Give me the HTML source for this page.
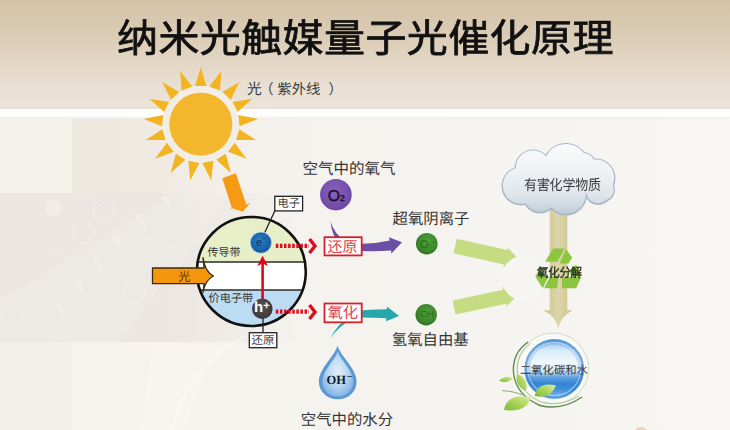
<!DOCTYPE html>
<html lang="zh-CN">
<head>
<meta charset="utf-8">
<style>
html,body{margin:0;padding:0;}
body{width:730px;height:430px;overflow:hidden;position:relative;background:#efebe5;font-family:"Liberation Sans",sans-serif;}
#top{position:absolute;left:0;top:0;width:730px;height:110px;background:linear-gradient(#d3c2a7 0%,#dccdb7 35%,#e8ded1 75%,#ede5db 100%);}
#band{position:absolute;left:0;top:107px;width:730px;height:12px;background:linear-gradient(#e7ddd1 0,#e4dace 1px,#f6f2ee 2px,#ffffff 3px,#ffffff 9px,#f6f4f1 10px,#f1eeea 12px);}
#low{position:absolute;left:0;top:116px;width:730px;height:314px;background:linear-gradient(90deg,#f4f1ed 0,#f5f3ef 400px,#f7f6f3 730px);}
.bg{position:absolute;}
#pA{left:0;top:116px;width:72px;height:77px;background:#f5f1eb;}
#pB{left:72px;top:116px;width:260px;height:77px;background:linear-gradient(90deg,#eee7de 0,#efe9e1 70px,#f4f0eb 180px,#f5f3ef 260px);}
#pC{left:0;top:193px;width:320px;height:149px;background:linear-gradient(90deg,#ebe6e1 0,#ebe6e1 170px,#f0ece7 240px,#f5f3ef 300px);}
#pD{left:0;top:342px;width:72px;height:88px;background:#f2eee9;}
#pE{left:72px;top:342px;width:250px;height:88px;background:linear-gradient(90deg,#f6f3ee 0,#f6f3ee 180px,#f5f3ef 250px);}
svg{position:absolute;left:0;top:0;}
.t{position:absolute;white-space:nowrap;line-height:1;color:#444;text-rendering:geometricPrecision;}
#title{left:117px;top:20px;font-size:41px;font-weight:500;color:#111;letter-spacing:0.4px;transform:scaleY(0.95);transform-origin:0 0;-webkit-text-stroke:0.8px #111;}

.uv{top:82.3px;font-size:14px;color:#3b3b3b;}
#o2t{left:302.5px;top:161.5px;font-size:15.5px;color:#363636;}
#supt{left:392.5px;top:211.8px;font-size:15.4px;color:#363636;}
#oht{left:391.8px;top:332.8px;font-size:15.4px;color:#363636;}
#h2ot{left:300.8px;top:412.5px;font-size:15.4px;color:#363636;}
#cb{left:207.5px;top:247.8px;font-size:11px;color:#3a3a3a;}
#vb{left:208.5px;top:293.5px;font-size:11.2px;color:#3a3a3a;}
#guang{left:178.2px;top:271px;font-size:12.2px;color:#5a3800;}
#dz{left:277.5px;top:199.3px;font-size:11.3px;color:#444;}
#hy2{left:251.5px;top:335.8px;font-size:11.5px;color:#444;}
#hy{left:327.5px;top:240px;font-size:15px;color:#e2434d;}
#yh{left:327.5px;top:305.5px;font-size:15.3px;color:#e2434d;}
#cloudt{left:524px;top:178.3px;font-size:13px;color:#3a3a3a;letter-spacing:-0.2px;transform:scaleY(1.12);transform-origin:0 0;}
#fj{left:537px;top:267.5px;transform:scaleY(1.1);transform-origin:0 0;font-size:11.5px;color:#1c2a12;letter-spacing:-0.3px;-webkit-text-stroke:0.3px #1c2a12;}
#co2{left:520px;top:365.8px;font-size:11.3px;color:#383838;}
#O2in{left:327.8px;top:189.3px;font-size:15.8px;color:#1c1030;-webkit-text-stroke:0.45px #1c1030;}
#ohm{left:326.5px;top:373.5px;font-size:12.5px;color:#0e1c2c;font-weight:bold;font-family:"Liberation Serif",serif;}
#hp{left:254px;top:300px;font-size:15px;color:#fff;font-weight:bold;}
#em{left:256px;top:236px;font-size:11px;color:#0d3560;}
#o2m{left:420px;top:239.5px;font-size:11px;color:#2a6a1c;}
#ohin{left:417.5px;top:310.3px;font-size:9px;color:#2a6a1c;}
</style>
</head>
<body>
<div id="top"></div>
<div id="low"></div><div class="bg" id="pA"></div><div class="bg" id="pB"></div><div class="bg" id="pC"></div><div class="bg" id="pD"></div><div class="bg" id="pE"></div>
<div id="band"></div>
<svg width="730" height="430" viewBox="0 0 730 430">
<defs>
  <clipPath id="cc"><circle cx="251.3" cy="271.5" r="54.5"/></clipPath>
  <radialGradient id="gO2" cx="45%" cy="40%" r="60%"><stop offset="0" stop-color="#8a60bd"/><stop offset="1" stop-color="#6c49a4"/></radialGradient>
  <radialGradient id="gGr" cx="55%" cy="40%" r="60%"><stop offset="0" stop-color="#4fa23a"/><stop offset="0.7" stop-color="#3b8a2b"/><stop offset="1" stop-color="#2c7020"/></radialGradient>
  <radialGradient id="gE" cx="45%" cy="40%" r="60%"><stop offset="0" stop-color="#2a7fc8"/><stop offset="1" stop-color="#15559b"/></radialGradient>
  <radialGradient id="gH" cx="45%" cy="40%" r="60%"><stop offset="0" stop-color="#5a5456"/><stop offset="1" stop-color="#3c3638"/></radialGradient>
  <linearGradient id="gCloud" gradientUnits="userSpaceOnUse" x1="0" y1="142" x2="0" y2="216"><stop offset="0" stop-color="#fafbfc"/><stop offset="0.4" stop-color="#eff2f5"/><stop offset="0.72" stop-color="#dfe5eb"/><stop offset="0.9" stop-color="#cad4de"/><stop offset="1" stop-color="#b8c5d1"/></linearGradient>
  <linearGradient id="gStem" x1="0" y1="0" x2="1" y2="0"><stop offset="0" stop-color="#cdc38d"/><stop offset="0.5" stop-color="#ddd5ab"/><stop offset="1" stop-color="#cdc38d"/></linearGradient>
  <linearGradient id="gGlobe" x1="0" y1="0" x2="0" y2="1"><stop offset="0" stop-color="#6aa6e0"/><stop offset="0.07" stop-color="#a6cff0"/><stop offset="0.2" stop-color="#dcedf9"/><stop offset="0.4" stop-color="#f0f7fc"/><stop offset="0.54" stop-color="#c8e2f6"/><stop offset="0.64" stop-color="#5fa2e2"/><stop offset="0.75" stop-color="#3483d3"/><stop offset="0.86" stop-color="#4691da"/><stop offset="0.94" stop-color="#7db9eb"/><stop offset="1" stop-color="#aed7f4"/></linearGradient>
  <radialGradient id="gRim" cx="50%" cy="50%" r="50%"><stop offset="0.78" stop-color="#3585d3" stop-opacity="0"/><stop offset="0.93" stop-color="#3585d3" stop-opacity="0.55"/><stop offset="1" stop-color="#3a88d5" stop-opacity="0.85"/></radialGradient>
  <linearGradient id="gHi" x1="0" y1="0" x2="0" y2="1"><stop offset="0" stop-color="#ffffff" stop-opacity="0.55"/><stop offset="1" stop-color="#ffffff" stop-opacity="0.85"/></linearGradient>
  <filter id="blur06"><feGaussianBlur stdDeviation="0.7"/></filter>
  <radialGradient id="gDrop" cx="50%" cy="45%" r="60%"><stop offset="0" stop-color="#e2eff9"/><stop offset="0.5" stop-color="#bcd9f2"/><stop offset="0.85" stop-color="#8dbce9"/><stop offset="1" stop-color="#7fb2e4"/></radialGradient>
  <linearGradient id="gLeaf" x1="0" y1="1" x2="1" y2="0"><stop offset="0" stop-color="#7dbb35"/><stop offset="0.5" stop-color="#a8d45a"/><stop offset="1" stop-color="#dcefa8"/></linearGradient>
</defs>

<g id="bgpat">
<path d="M0,300 L0,345 L120,342 L230,193 L175,193 Z" fill="#ffffff" opacity="0.12"/>
<g fill="none" stroke="#ffffff" stroke-width="1.2" opacity="0.25"><circle cx="104" cy="210.5" r="11"/><circle cx="83.5" cy="232" r="11"/><circle cx="12" cy="318" r="10"/><polygon points="185.0,256.5 179.0,266.9 167.0,266.9 161.0,256.5 167.0,246.1 179.0,246.1"/><polygon points="146.7,292.4 140.7,302.8 128.7,302.8 122.7,292.4 128.7,282.0 140.7,282.0"/><polygon points="196.0,170.0 191.0,178.7 181.0,178.7 176.0,170.0 181.0,161.3 191.0,161.3"/><polygon points="70.0,330.0 65.0,338.7 55.0,338.7 50.0,330.0 55.0,321.3 65.0,321.3"/><line x1="55" y1="250" x2="72" y2="262"/><line x1="28" y1="285" x2="45" y2="296"/><line x1="140" y1="245" x2="200" y2="190"/><line x1="90" y1="320" x2="130" y2="280"/></g>
<g fill="#ffffff" opacity="0.25"><circle cx="52.8" cy="208" r="8"/><polygon points="111.1,237.6 118.4,234.2 123.2,254.1"/><polygon points="134.5,215.6 141.8,212.2 146.6,232.1"/><polygon points="160.1,197.6 167.4,194.2 172.2,214.1"/><polygon points="91.1,259.6 98.4,256.2 103.2,276.1"/><polygon points="73.1,282.6 80.4,279.2 85.2,299.1"/><polygon points="54.1,304.6 61.4,301.2 66.2,321.1"/></g>
</g>
<path d="M150,344 L230,344 Q200,370 185,430 L140,430 Q150,380 150,344 Z" fill="#ffffff" opacity="0.22"/>
<path d="M172,430 Q185,370 245,336" stroke="#ffffff" stroke-width="3" opacity="0.35" fill="none"/>
<!-- SUN -->
<g id="sun">
  <circle cx="200.8" cy="124.2" r="38.5" fill="#f2ede5"/>
  <g fill="#f3b422" id="rays"><path d="M206.4,85.9L200.8,66.9L195.2,85.9Z"/><path d="M219.9,90.5L221.5,70.8L209.4,86.5Z"/><path d="M230.7,99.7L239.4,81.9L222.5,92.1Z"/><path d="M237.6,112.1L252.1,98.7L232.6,102.1Z"/><path d="M239.5,126.2L257.9,118.9L238.4,115.1Z"/><path d="M236.1,140.1L255.9,139.9L239.2,129.3Z"/><path d="M228.0,151.7L246.5,158.7L234.7,142.8Z"/><path d="M216.2,159.7L231.0,172.9L225.7,153.8Z"/><path d="M202.3,162.9L211.3,180.5L213.3,160.8Z"/><path d="M188.3,160.8L190.3,180.5L199.3,162.9Z"/><path d="M175.9,153.8L170.6,172.9L185.4,159.7Z"/><path d="M166.9,142.8L155.1,158.7L173.6,151.7Z"/><path d="M162.4,129.3L145.7,139.9L165.5,140.1Z"/><path d="M163.2,115.1L143.7,118.9L162.1,126.2Z"/><path d="M169.0,102.1L149.5,98.7L164.0,112.1Z"/><path d="M179.1,92.1L162.2,81.9L170.9,99.7Z"/><path d="M192.2,86.5L180.1,70.8L181.7,90.5Z"/></g>
  <circle cx="200.8" cy="124.2" r="31.5" fill="#f4b62c"/>
</g>

<!-- orange arrow from sun -->
<path d="M222.3,178.2 L235.8,173.3 L246.3,204.7 L250.5,202.6 L242.8,211.7 L230.2,207.6 L232.3,209.6 Z" fill="#f59a12"/>

<!-- MAIN CIRCLE -->
<g clip-path="url(#cc)">
  <rect x="190" y="210" width="130" height="52" fill="#e6efc8"/>
  <rect x="190" y="262" width="130" height="28" fill="#ffffff"/>
  <rect x="190" y="290" width="130" height="40" fill="#bcdcf3"/>
  <line x1="190" y1="262" x2="320" y2="262" stroke="#2b2b2b" stroke-width="1.6"/>
  <line x1="190" y1="290" x2="320" y2="290" stroke="#2b2b2b" stroke-width="1.6"/>
</g>
<circle cx="251.3" cy="271.5" r="54.5" fill="none" stroke="#111" stroke-width="2.6"/>

<!-- light arrow 光 -->
<path d="M152.5,268 L204,268 L204,267.5 Q203.6,262 203,257.6 Q205,272 213.5,276 Q205,280 203,292.4 Q203.6,289 204,284.5 L204,283.7 L152.5,283.7 Z" fill="#f5960f" stroke="#3d2a0a" stroke-width="1.3" stroke-linejoin="round"/>

<!-- electron box line -->
<line x1="275" y1="210.5" x2="264.5" y2="233" stroke="#222" stroke-width="1.3"/>
<rect x="274.8" y="196.3" width="27.8" height="14.6" fill="#fff" stroke="#222" stroke-width="1.3"/>
<!-- red vertical arrow -->
<line x1="262.6" y1="263" x2="262.6" y2="299" stroke="#e2061b" stroke-width="2.6"/>
<path d="M257.2,266 L262.6,255.8 L268,266 L262.6,263.5 Z" fill="#e2061b"/>
<!-- e- -->
<circle cx="260.9" cy="242.6" r="10.7" fill="url(#gE)" stroke="#bfe3f0" stroke-width="0.8"/>
<!-- h+ -->
<line x1="263" y1="315" x2="263" y2="333" stroke="#222" stroke-width="1.3"/>
<circle cx="262.3" cy="308.7" r="10.3" fill="url(#gH)"/>
<rect x="249.3" y="332.7" width="27.5" height="15" fill="#fff" stroke="#222" stroke-width="1.3"/>

<!-- red dotted arrows -->
<line x1="275.8" y1="245.8" x2="309" y2="245.8" stroke="#e00b1d" stroke-width="4.2" stroke-dasharray="2.5 1.6"/>
<path d="M309.5,239 L315,246 L309.5,253" fill="none" stroke="#e00b1d" stroke-width="3.4"/>
<line x1="275.8" y1="311.7" x2="309" y2="311.7" stroke="#e00b1d" stroke-width="4.2" stroke-dasharray="2.5 1.6"/>
<path d="M309.5,305 L315,312 L309.5,319" fill="none" stroke="#e00b1d" stroke-width="3.4"/>

<!-- purple curved arrow -->
<path d="M330.6,221.5 Q334,234 346,241.5 Q353,244.3 362,243.8 Q377,243.3 389.8,240.4 L388.8,237.2 L402,242.3 L391.4,253.4 L391,250.6 Q376,251.6 362,251 Q346,250.3 337,240.5 Q331.5,233 330.6,221.5 Z" fill="#6b4ea6"/>
<!-- teal curved arrow -->
<path d="M330,338.6 Q337,325 350,315.5 Q358,310.5 366,310.1 Q377,309.6 386.6,309.3 L387.3,306.8 L399,316 L386,321.2 L386.3,318.3 Q374,317.6 362,317.5 Q352,318.5 345,323.5 Q336,330 330,338.6 Z" fill="#25a7ac"/>

<!-- red boxes -->
<rect x="324.5" y="237.2" width="37.2" height="18.2" fill="#fff" stroke="#d8202b" stroke-width="1.8"/>
<rect x="324.5" y="303.5" width="37.2" height="18.8" fill="#fff" stroke="#d8202b" stroke-width="1.8"/>

<!-- O2 -->
<circle cx="335.9" cy="194.7" r="15.8" fill="url(#gO2)"/>
<!-- O2- -->
<circle cx="426.8" cy="243.7" r="10.8" fill="url(#gGr)"/>
<!-- OH -->
<circle cx="426.2" cy="314.7" r="10.7" fill="url(#gGr)"/>

<!-- water drop -->
<path d="M337.6,345.4 C340,356 356.6,368 356.6,381.5 C356.6,392 348.3,399.3 337.8,399.3 C327.3,399.3 318.9,392 318.9,381.5 C318.9,368 335,356 337.6,345.4 Z" fill="#5c98d6"/>
<path d="M337.7,351 C340,360 353.3,370 353.3,382 C353.3,390.5 346.3,396.5 337.9,396.5 C329.5,396.5 322.3,390.5 322.3,382 C322.3,370 335.5,360 337.7,351 Z" fill="url(#gDrop)"/>
<!-- green broad arrows -->
<path d="M456.8,238.7 L507.2,250.1 L507.7,247.8 L520.2,260.7 L503.4,266.9 L503.9,264.6 L453.5,253.3 Z" fill="#c6dc82"/>
<path d="M452.6,300.4 L503.2,289.7 L502.6,287.1 L519.3,293.6 L506.7,306.3 L506.1,303.8 L455.5,314.4 Z" fill="#c6dc82"/>
<circle cx="524" cy="278" r="22.5" fill="#f6f5f2"/>
<!-- tan stem + arrow -->
<path d="M549.7,205 L567.3,205 L567.3,310.3 L572.8,310.3 Q561,316 558.3,328.4 Q555.5,316 543.1,310.3 L549.7,310.3 Z" fill="url(#gStem)"/>

<!-- cloud -->
<g id="cloud">
  <g fill="#a9b7c5" filter="url(#blur06)"><circle cx="521" cy="186" r="19.5"/><circle cx="533" cy="168" r="18.5"/><circle cx="566" cy="166.5" r="23.5"/><circle cx="583" cy="165" r="13"/><circle cx="596" cy="178" r="19.5"/><circle cx="603" cy="190" r="12"/><circle cx="540" cy="196" r="17.5"/><circle cx="566" cy="194.5" r="21"/><circle cx="598" cy="192" r="13"/></g>
  <g fill="url(#gCloud)"><circle cx="521" cy="185.6" r="18.2"/><circle cx="533" cy="167.6" r="17.2"/><circle cx="566" cy="166.1" r="22.2"/><circle cx="583" cy="164.6" r="11.7"/><circle cx="596" cy="177.6" r="18.2"/><circle cx="603" cy="189.6" r="10.7"/><circle cx="540" cy="195.6" r="16.2"/><circle cx="566" cy="194.1" r="19.7"/><circle cx="598" cy="191.6" r="11.7"/></g>
</g>

<!-- recycle -->
<g id="recycle" fill="#8cc63f">
  <polygon points="545.2,261.8 553.2,248.4 564.6,248.4 557.4,261.8"/>
  <polygon points="566,249 572.2,257.6 568.6,263.6 559.6,263.6"/>
  <polygon points="535.2,276.6 548.6,276.6 542.7,288.3"/>
  <polygon points="550,276.6 558.3,276.6 557.2,288.3 544.1,288.3"/>
  <polygon points="562,277 581.3,277 576.2,288.3 562,288.3"/>
  <polygon points="569.5,271 576,264.5 581,276.5 571,276.5"/>
  <polygon points="535.2,276.6 540,268 545,276.6"/>
</g>

<!-- globe -->
<g id="globe">
  <circle cx="553" cy="368.5" r="35.5" fill="#f9faf7"/>
  <circle cx="553" cy="368.5" r="35.5" fill="none" stroke="#c9d8b8" stroke-width="0.9"/>
  <path d="M528,342 Q512,353 513.5,373 Q516,395 540,405.5 Q562,411 582,397" fill="none" stroke="#5f8a4e" stroke-width="1.4"/>
  <path d="M531,343 Q516,354 517,372 Q519,392 541,402 Q561,407 579,396" fill="none" stroke="#a9c58a" stroke-width="0.9"/>
  <circle cx="554.3" cy="369" r="29.8" fill="url(#gGlobe)"/>
  <circle cx="554.3" cy="369" r="29.8" fill="url(#gRim)"/>
  <circle cx="554.3" cy="369" r="26.5" fill="none" stroke="#ffffff" stroke-width="1.2" opacity="0.45"/>
  <path d="M502,390.5 Q512,391 522,394.5" fill="none" stroke="#6a9a45" stroke-width="0.8"/>
  <path d="M499,380.7 Q506,374.5 513,378.3 Q506,384.5 499,380.7 Z" fill="url(#gLeaf)"/>
  <path d="M517,374 Q529,378 526,391 Q514.5,386 517,374 Z" fill="url(#gLeaf)"/>
  <path d="M504,410 Q507,393 531,397 Q527,413 504,410 Z" fill="url(#gLeaf)"/>
  <path d="M534.5,396 Q538,381 556,385.5 Q551,399.5 534.5,396 Z" fill="url(#gLeaf)"/>
</g>
<ellipse cx="641" cy="431" rx="6" ry="4" fill="#e2b594" filter="url(#blur06)" opacity="0.5"/>
</svg>

<div class="t" id="title">纳米光触媒量子光催化原理</div>
<div class="t uv" style="left:247px;font-size:14.8px;top:83px">光</div><div class="t uv" style="left:259.5px">（</div><div class="t uv" style="left:277.3px;font-size:14.4px;top:82.5px">紫外线</div><div class="t uv" style="left:328.5px">）</div>
<div class="t" id="o2t">空气中的氧气</div>
<div class="t" id="supt">超氧阴离子</div>
<div class="t" id="oht">氢氧自由基</div>
<div class="t" id="h2ot">空气中的水分</div>
<div class="t" id="cb">传导带</div>
<div class="t" id="vb">价电子带</div>
<div class="t" id="guang">光</div>
<div class="t" id="dz">电子</div>
<div class="t" id="hy2">还原</div>
<div class="t" id="hy">还原</div>
<div class="t" id="yh">氧化</div>
<div class="t" id="cloudt">有害化学物质</div>
<div class="t" id="fj">氧化分解</div>
<div class="t" id="co2">二氧化碳和水</div>
<div class="t" id="O2in">O<span style="font-size:8.5px">2</span></div>
<div class="t" id="ohm">OH<span style="font-size:10px;position:relative;top:-4px;left:0.8px">−</span></div>
<div class="t" id="hp">h<span style="font-size:11px;vertical-align:3px">+</span></div>
<div class="t" id="em">e<span style="font-size:7px;vertical-align:5px">−</span></div>
<div class="t" id="o2m">O<span style="font-size:5px;vertical-align:0">2</span><span style="font-size:8px;position:relative;top:-3px">−</span></div>
<div class="t" id="ohin">·OH</div>

</body>
</html>
